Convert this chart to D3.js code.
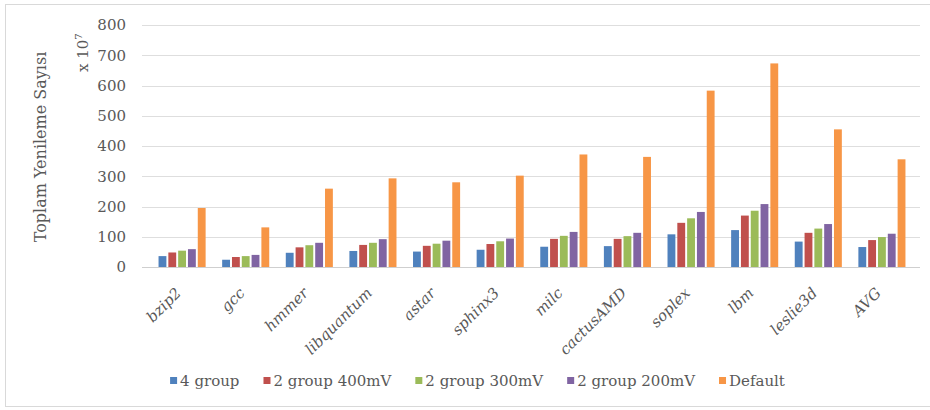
<!DOCTYPE html>
<html>
<head>
<meta charset="utf-8">
<script src="https://cdn.jsdelivr.net/npm/d3@7"></script>
<style>
  html, body { margin: 0; padding: 0; background: #fff; }
  svg { display: block; }
  text { font-family: "DejaVu Serif", "Liberation Serif", serif; fill: #595959; }
</style>
</head>
<body>
<svg id="chart" width="930" height="410"></svg>
<script>
// Benchmarks on the x axis
const categories = ["bzip2", "gcc", "hmmer", "libquantum", "astar", "sphinx3",
                    "milc", "cactusAMD", "soplex", "lbm", "leslie3d", "AVG"];

// Series names (legend order) and their values, in units of 10^7 refreshes
const seriesNames = ["4 group", "2 group 400mV", "2 group 300mV", "2 group 200mV", "Default"];
const group4      = [36, 24, 47, 53, 51, 57, 67, 69, 108, 122, 84, 66];
const group2_400  = [48, 33, 65, 73, 70, 76, 93, 93, 146, 170, 113, 89];
const group2_300  = [54, 36, 72, 80, 77, 85, 103, 102, 161, 186, 127, 99];
const group2_200  = [59, 40, 80, 92, 87, 94, 116, 113, 182, 208, 142, 110];
const defaultRef  = [195, 131, 259, 293, 280, 302, 372, 364, 583, 673, 455, 356];
const seriesValues = [group4, group2_400, group2_300, group2_200, defaultRef];

const colors = ["#4f81bd", "#c0504d", "#9bbb59", "#8064a2", "#f79646"];
const yTicks = [0, 100, 200, 300, 400, 500, 600, 700, 800];

const svg = d3.select("#chart");

// Outer chart frame
svg.append("rect")
  .attr("x", 5.5).attr("y", 4.5)
  .attr("width", 940).attr("height", 402)
  .attr("fill", "none").attr("stroke", "#d9d9d9");

const plot = { left: 142, right: 922, top: 25, bottom: 267 };

const y = d3.scaleLinear().domain([0, 800]).range([plot.bottom, plot.top]);
const x0 = d3.scaleBand().domain(categories).range([plot.left, plot.right]).padding(0.26);
const x1 = d3.scaleBand().domain(d3.range(seriesNames.length))
  .range([0, x0.bandwidth()]).paddingInner(0.2).paddingOuter(0);

// Horizontal gridlines
svg.append("g").selectAll("line")
  .data(yTicks)
  .join("line")
  .attr("x1", plot.left).attr("x2", 920)
  .attr("y1", d => Math.round(y(d)) + 0.5).attr("y2", d => Math.round(y(d)) + 0.5)
  .attr("stroke", d => d === 0 ? "#cfcfcf" : "#dedede")
  .attr("stroke-width", 1);

// Y tick labels
const yAxis = d3.axisLeft(y).tickValues(yTicks).tickSize(0).tickPadding(0);
const yG = svg.append("g").attr("transform", "translate(126,0)").call(yAxis);
yG.select(".domain").remove();
yG.selectAll("text")
  .attr("font-family", "DejaVu Serif")
  .attr("font-size", 15)
  .attr("fill", "#595959");

// Bars
const groups = svg.append("g").selectAll("g")
  .data(categories)
  .join("g")
  .attr("transform", d => `translate(${x0(d)},0)`);

groups.selectAll("rect")
  .data((d, i) => seriesValues.map((vals, s) => ({ s, v: vals[i] })))
  .join("rect")
  .attr("x", d => x1(d.s))
  .attr("width", x1.bandwidth())
  .attr("y", d => y(d.v))
  .attr("height", d => y(0) - y(d.v))
  .attr("fill", d => colors[d.s]);

// X category labels, slanted
const xAxis = d3.axisBottom(x0).tickSize(0).tickPadding(0);
const xG = svg.append("g").attr("transform", `translate(0,${plot.bottom})`).call(xAxis);
xG.select(".domain").remove();
xG.selectAll("text")
  .attr("font-family", "DejaVu Serif")
  .attr("font-style", "italic")
  .attr("font-size", 15)
  .attr("fill", "#595959")
  .attr("text-anchor", "end")
  .attr("dy", 0)
  .attr("y", 0)
  .attr("transform", "translate(0,27) rotate(-45)");

// Y axis title
svg.append("text")
  .attr("transform", "translate(46,147) rotate(-90)")
  .attr("text-anchor", "middle")
  .attr("font-size", 16)
  .text("Toplam Yenileme Sayısı");

// Scale note: x 10^7
const unit = svg.append("text")
  .attr("transform", "translate(88,72) rotate(-90)")
  .attr("font-size", 15);
unit.append("tspan").text("x 10");
unit.append("tspan").attr("font-size", 10).attr("dy", -6).text("7");

// Legend
const legend = svg.append("g");
const items = legend.selectAll("g")
  .data(seriesNames)
  .join("g");
items.append("rect")
  .attr("width", 7).attr("height", 7)
  .attr("y", 377)
  .attr("fill", (d, i) => colors[i]);
items.append("text")
  .attr("x", 10)
  .attr("y", 386)
  .attr("font-size", 15)
  .text(d => d);

let cursor = 0;
const positions = [];
items.each(function () {
  const w = d3.select(this).select("text").node().getComputedTextLength();
  positions.push(cursor);
  cursor += 10 + w + 24;
});
const total = cursor - 24;
const start = 477.5 - total / 2;
items.attr("transform", (d, i) => `translate(${start + positions[i]},0)`);
</script>
</body>
</html>
